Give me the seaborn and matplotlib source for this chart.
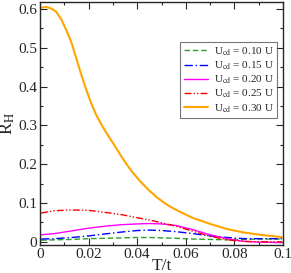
import numpy as np
import pandas as pd
import matplotlib
matplotlib.use("Agg")
import matplotlib.pyplot as plt
import seaborn as sns
from matplotlib.ticker import MultipleLocator

sns.set_style("ticks")
plt.rcParams['font.family'] = ['Liberation Serif', 'DejaVu Serif']
plt.rcParams['mathtext.fontset'] = 'stix'

labels = ["U$_{\\mathrm{cd}}$ = 0.10 U", "U$_{\\mathrm{cd}}$ = 0.15 U", "U$_{\\mathrm{cd}}$ = 0.20 U",
          "U$_{\\mathrm{cd}}$ = 0.25 U", "U$_{\\mathrm{cd}}$ = 0.30 U"]
colors = ["#2e9e2e", "#0000ff", "#ff00ff", "#ff0000", "#ffa500"]

T_grid = [0.0005, 0.006, 0.013, 0.020, 0.0265, 0.0335, 0.040, 0.045, 0.050, 0.056,
          0.063, 0.070, 0.077, 0.084, 0.090, 0.0995]
R_010 = [0.004, 0.005, 0.006, 0.008, 0.009, 0.010, 0.011, 0.011, 0.010, 0.009,
         0.007, 0.006, 0.005, 0.006, 0.007, 0.007]
R_015 = [0.007, 0.008, 0.011, 0.015, 0.020, 0.025, 0.029, 0.030, 0.029, 0.026,
         0.021, 0.015, 0.011, 0.008, 0.008, 0.008]
R_020 = [0.018, 0.021, 0.028, 0.035, 0.040, 0.044, 0.046, 0.047, 0.046, 0.042,
         0.031, 0.018, 0.008, 0.001, -0.001, -0.002]
R_025 = [0.074, 0.080, 0.082, 0.081, 0.076, 0.070, 0.062, 0.056, 0.049, 0.040,
         0.027, 0.014, 0.005, 0.001, 0.000, 0.000]

T_orange = [0.0005, 0.0026, 0.0047, 0.0067, 0.0088, 0.0108, 0.0129, 0.0149, 0.017, 0.019,
            0.0211, 0.0232, 0.0266, 0.0309, 0.0343, 0.0377, 0.0412, 0.0446, 0.048, 0.0514,
            0.0549, 0.0583, 0.063, 0.070, 0.0768, 0.0837, 0.0905, 0.0995]
R_030 = [0.603, 0.605, 0.601, 0.593, 0.573, 0.546, 0.515, 0.474, 0.431, 0.393,
         0.357, 0.326, 0.288, 0.246, 0.212, 0.182, 0.156, 0.134, 0.115, 0.099,
         0.086, 0.075, 0.061, 0.046, 0.033, 0.024, 0.018, 0.012]

series = [(T_grid, R_010), (T_grid, R_015), (T_grid, R_020), (T_grid, R_025), (T_orange, R_030)]
dashes = [(4, 2), (6, 2, 1, 2), None, (5, 1.5, 1, 1.5, 1, 1.5), None]
widths = [1.0, 1.0, 1.0, 1.0, 1.5]

fig = plt.figure(figsize=(2.91, 2.73), dpi=100)
ax = fig.add_axes([0.137, 0.103, 0.836, 0.89])

for (t, r), lab, col, d, w in zip(series, labels, colors, dashes, widths):
    df = pd.DataFrame({"T": t, "R": r})
    sns.lineplot(data=df, x="T", y="R", ax=ax, color=col, label=lab, lw=w)
    ln = ax.lines[-1]
    if d is not None:
        ln.set_dashes(d)

ax.set_xlim(0, 0.1)
ax.set_ylim(-0.008, 0.618)
ax.xaxis.set_minor_locator(MultipleLocator(0.01))
ax.yaxis.set_minor_locator(MultipleLocator(0.05))
ax.set_xticks([0, 0.02, 0.04, 0.06, 0.08, 0.1])
ax.set_xticklabels(["0", "0.02", "0.04", "0.06", "0.08", "0.1"])
ax.set_yticks([0, 0.1, 0.2, 0.3, 0.4, 0.5, 0.6])
ax.set_yticklabels(["0", "0.1", "0.2", "0.3", "0.4", "0.5", "0.6"])
ax.tick_params(which='both', direction='in', top=True, right=True, labelsize=11, pad=2)
ax.tick_params(which='major', length=5, width=0.8)
ax.tick_params(which='minor', length=2.5, width=0.8)
for s in ax.spines.values():
    s.set_linewidth(1.0)
ax.set_xlabel("T/t", fontsize=12.5, labelpad=-2)
ax.set_ylabel("R$_\\mathrm{H}$", fontsize=13, labelpad=1)

leg = ax.legend(loc='upper right', bbox_to_anchor=(0.975, 0.835), fontsize=8, frameon=True,
                fancybox=False, edgecolor='#555555', handlelength=2.2, labelspacing=0.15,
                borderpad=0.3, handletextpad=0.5, borderaxespad=0)
leg.get_frame().set_linewidth(0.8)

fig.savefig("out.png", dpi=100)
